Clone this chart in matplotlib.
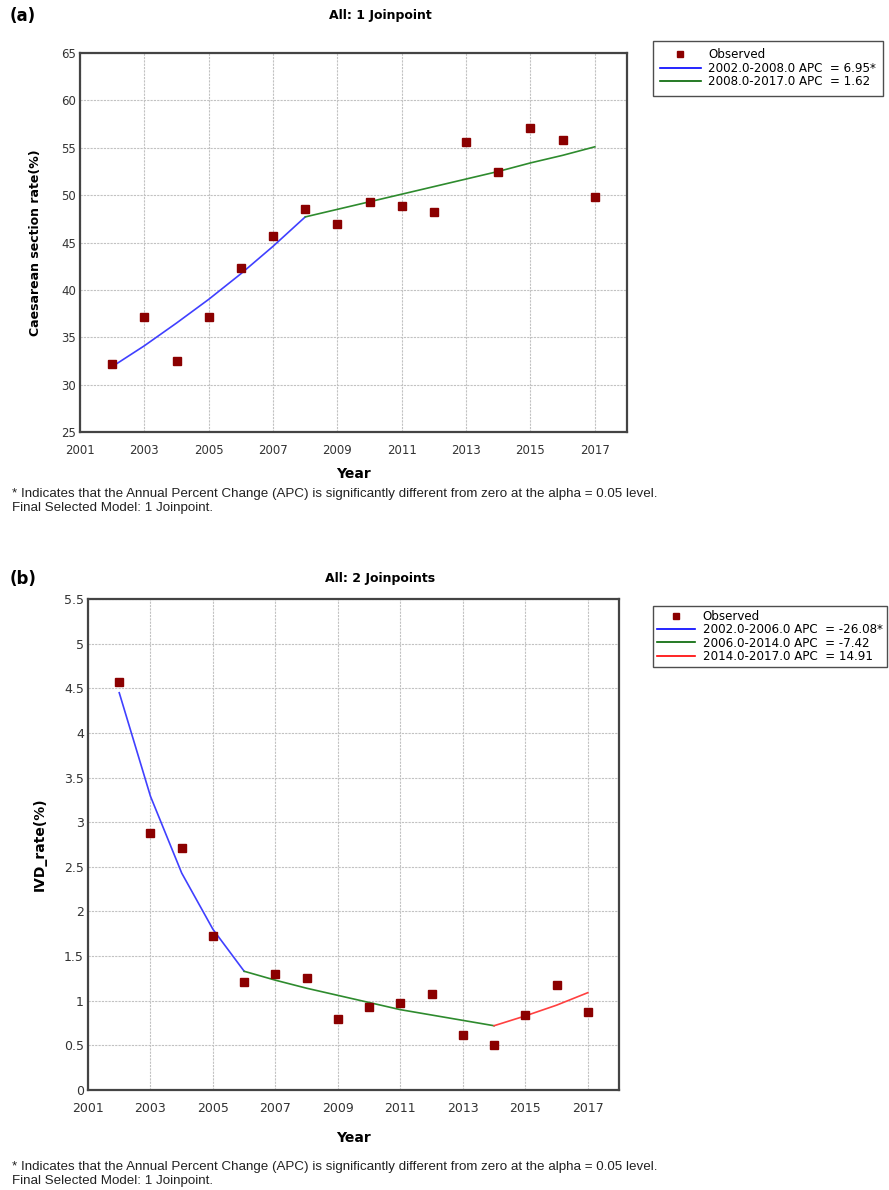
import matplotlib
matplotlib.use("Agg")
import matplotlib.pyplot as plt
from matplotlib.lines import Line2D

years = list(range(2002, 2018))

# Panel (a): Caesarean section rate
cs_observed = [32.2, 37.1, 32.5, 37.1, 42.3, 45.7, 48.5, 46.9, 49.3, 48.9,
               48.2, 55.6, 52.4, 57.1, 55.8, 49.8]
cs_fit_years_1 = [2002, 2003, 2004, 2005, 2006, 2007, 2008]
cs_fit_1 = [31.9, 34.1, 36.5, 39.0, 41.7, 44.6, 47.7]
cs_fit_years_2 = [2008, 2009, 2010, 2011, 2012, 2013, 2014, 2015, 2016, 2017]
cs_fit_2 = [47.7, 48.5, 49.3, 50.1, 50.9, 51.7, 52.5, 53.4, 54.2, 55.1]
cs_labels = ["Observed", "2002.0-2008.0 APC  = 6.95*", "2008.0-2017.0 APC  = 1.62"]

# Panel (b): IVD rate
ivd_observed = [4.57, 2.88, 2.71, 1.72, 1.21, 1.30, 1.25, 0.80, 0.93, 0.97,
                1.07, 0.62, 0.50, 0.84, 1.18, 0.87]
ivd_fit_years_1 = [2002, 2003, 2004, 2005, 2006]
ivd_fit_1 = [4.45, 3.29, 2.43, 1.80, 1.33]
ivd_fit_years_2 = [2006, 2007, 2008, 2009, 2010, 2011, 2012, 2013, 2014]
ivd_fit_2 = [1.33, 1.23, 1.14, 1.06, 0.98, 0.90, 0.84, 0.78, 0.72]
ivd_fit_years_3 = [2014, 2015, 2016, 2017]
ivd_fit_3 = [0.72, 0.83, 0.95, 1.09]
ivd_labels = ["Observed", "2002.0-2006.0 APC  = -26.08*", "2006.0-2014.0 APC  = -7.42",
              "2014.0-2017.0 APC  = 14.91"]

xticks = list(range(2001, 2018, 2))
footnote1 = "* Indicates that the Annual Percent Change (APC) is significantly different from zero at the alpha = 0.05 level."
footnote2 = "Final Selected Model: 1 Joinpoint."

W, H = 889, 1190
fig = plt.figure(figsize=(W / 100, H / 100), dpi=100)

obs_color = "#8B0000"
tick_color = "#333333"


def style_axes(ax, ylim, yticks, ylabel, ylabelpad, xlabelpad, labelsize):
    ax.set_xlim(2001, 2018)
    ax.set_ylim(*ylim)
    ax.set_xticks(xticks)
    ax.set_xticklabels([str(x) for x in xticks])
    ax.set_yticks(yticks)
    ax.set_yticklabels([f"{v:g}" for v in yticks])
    ax.tick_params(length=0, labelsize=labelsize, colors=tick_color)
    ax.tick_params(axis="x", pad=9)
    ax.tick_params(axis="y", pad=3)
    ax.grid(True, color="#c2c2c2", linestyle=(0, (2, 1)), linewidth=0.8)
    ax.set_axisbelow(True)
    for s in ax.spines.values():
        s.set_color("#444444")
        s.set_linewidth(1.6)
    ax.set_xlabel("Year", fontsize=10, fontweight="bold", labelpad=xlabelpad)
    ax.set_ylabel(ylabel, fontsize=9 if len(ylabel) > 15 else 10,
                  fontweight="bold", labelpad=ylabelpad)


def px(x, y):
    return x / W, 1 - y / H


# ---------------- Panel (a)
axa = fig.add_axes([80 / W, 1 - 432 / H, (627 - 80) / W, (432 - 53) / H])
axa.plot(cs_fit_years_1, cs_fit_1, color="#4040ff", lw=1.2)
axa.plot(cs_fit_years_2, cs_fit_2, color="#2e8b2e", lw=1.2)
axa.plot(years, cs_observed, linestyle="none", marker="s", markersize=5.5,
         color=obs_color)
style_axes(axa, (25, 65), list(range(25, 66, 5)), "Caesarean section rate(%)",
           ylabelpad=14, xlabelpad=7, labelsize=8.5)

fig.text(*px(10, 16), "(a)", fontsize=12, fontweight="bold", va="center")
fig.text(*px(380, 16), "All: 1 Joinpoint", fontsize=9, fontweight="bold",
         ha="center", va="center")

handles_a = [Line2D([], [], linestyle="none", marker="s", markersize=4, color=obs_color),
             Line2D([], [], color="#0000ff", lw=1.2),
             Line2D([], [], color="#006400", lw=1.2)]
lega = fig.legend(handles_a, cs_labels, loc="upper left", bbox_to_anchor=px(653, 41),
                  frameon=True, fancybox=False, fontsize=8.6, handlelength=3.4,
                  borderpad=0.6, labelspacing=0.05, handletextpad=0.6,
                  borderaxespad=0)
lega.get_frame().set_edgecolor("#222222")
lega.get_frame().set_linewidth(1.0)

fig.text(*px(12, 494), footnote1, fontsize=9.6, va="center", family="Liberation Sans",
         color="#222222")
fig.text(*px(12, 508), footnote2, fontsize=9.6, va="center", family="Liberation Sans",
         color="#222222")

# ---------------- Panel (b)
axb = fig.add_axes([88 / W, 1 - 1090 / H, (619 - 88) / W, (1090 - 599) / H])
axb.plot(ivd_fit_years_1, ivd_fit_1, color="#4040ff", lw=1.2)
axb.plot(ivd_fit_years_2, ivd_fit_2, color="#2e8b2e", lw=1.2)
axb.plot(ivd_fit_years_3, ivd_fit_3, color="#ff4040", lw=1.2)
axb.plot(years, ivd_observed, linestyle="none", marker="s", markersize=5.5,
         color=obs_color)
style_axes(axb, (0, 5.5), [i * 0.5 for i in range(12)], "IVD_rate(%)",
           ylabelpad=12, xlabelpad=11, labelsize=9)

fig.text(*px(10, 579), "(b)", fontsize=12, fontweight="bold", va="center")
fig.text(*px(380, 578), "All: 2 Joinpoints", fontsize=9, fontweight="bold",
         ha="center", va="center")

handles_b = [Line2D([], [], linestyle="none", marker="s", markersize=4, color=obs_color),
             Line2D([], [], color="#0000ff", lw=1.2),
             Line2D([], [], color="#006400", lw=1.2),
             Line2D([], [], color="#ff0000", lw=1.2)]
legb = fig.legend(handles_b, ivd_labels, loc="upper left", bbox_to_anchor=px(653, 606),
                  frameon=True, fancybox=False, fontsize=8.6, handlelength=3.2,
                  borderpad=0.35, labelspacing=0.02, handletextpad=0.6,
                  borderaxespad=0)
legb.get_frame().set_edgecolor("#222222")
legb.get_frame().set_linewidth(1.0)

fig.text(*px(12, 1167), footnote1, fontsize=9.6, va="center", family="Liberation Sans",
         color="#222222")
fig.text(*px(12, 1181), footnote2, fontsize=9.6, va="center", family="Liberation Sans",
         color="#222222")

fig.savefig("out.png", dpi=100)
